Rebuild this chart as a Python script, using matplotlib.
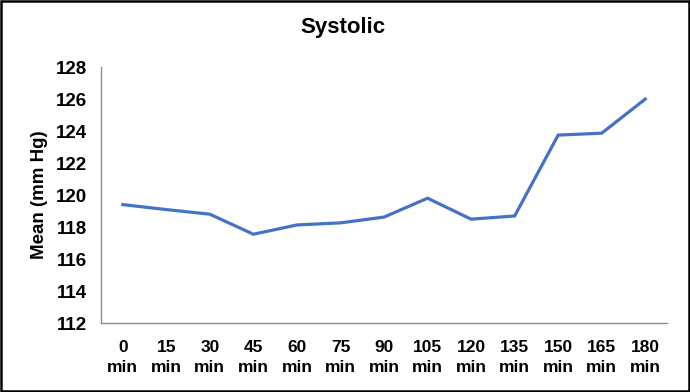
import numpy as np
import matplotlib.pyplot as plt
from matplotlib.patches import Rectangle

plt.rcParams['font.family'] = ['Liberation Sans', 'DejaVu Sans']
plt.rcParams['font.weight'] = 'bold'

times = ['0', '15', '30', '45', '60', '75', '90', '105', '120', '135', '150', '165', '180']
systolic = [119.41, 119.1, 118.81, 117.56, 118.14, 118.27, 118.63, 119.81, 118.5, 118.7, 123.75, 123.87, 126.0]

labels = ['{}\nmin'.format(t) for t in times]
x = np.arange(len(times))

fig = plt.figure(figsize=(6.9, 3.92), dpi=100)
ax = fig.add_axes([0.1464, 0.1753, 0.8203, 0.6537])

ax.plot(x, systolic, color='#4472C4', linewidth=2.3, solid_joinstyle='miter')
ax.set_xlim(-0.5, len(times) - 0.5)
ax.set_ylim(112, 128)
ax.set_yticks(range(112, 129, 2))
ax.set_xticks(x)
ax.set_xticklabels(labels, fontsize=12.5, fontweight='bold', linespacing=1.4)
ax.tick_params(axis='y', labelsize=13.5, length=0, pad=10)
ax.tick_params(axis='x', length=0, pad=12)
for s in ['top', 'right']:
    ax.spines[s].set_visible(False)
for s in ['left', 'bottom']:
    ax.spines[s].set_color('#8c8c8c')
    ax.spines[s].set_linewidth(1)
ax.set_ylabel('Mean (mm Hg)', fontsize=13.5, fontweight='bold', labelpad=6)

fig.text(0.497, 0.929, 'Systolic', ha='center', va='center', fontsize=16, fontweight='bold')
fig.patches.append(Rectangle((0.001, 0.002), 0.997, 0.996, transform=fig.transFigure,
                             fill=False, edgecolor='black', linewidth=1.8))

plt.savefig('out.png', dpi=100)
